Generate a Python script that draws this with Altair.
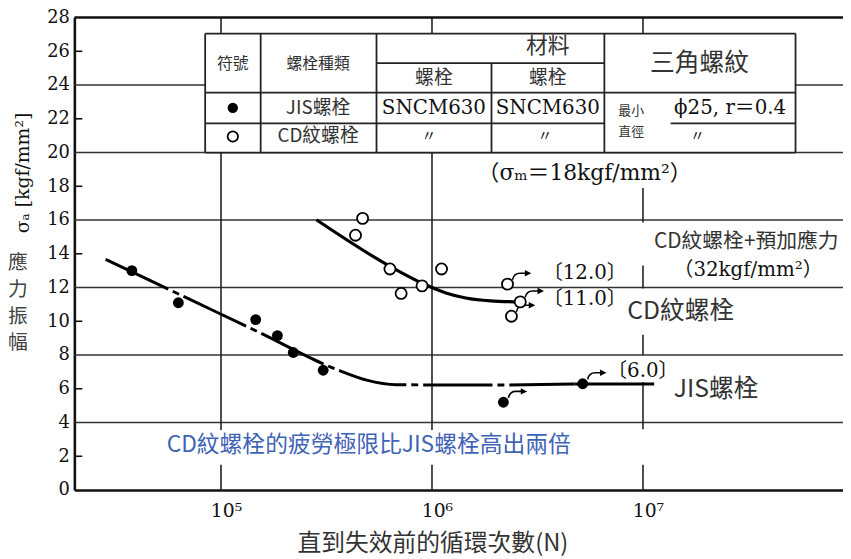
import altair as alt
import pandas as pd

# ---------------- data ----------------
jis_N = [3.78e4, 6.28e4, 1.46e5, 1.85e5, 2.20e5, 3.05e5, 2.18e6, 5.18e6]
jis_s = [13.0, 11.1, 10.1, 9.15, 8.15, 7.1, 5.2, 6.3]
jis_runout = [0, 0, 0, 0, 0, 0, 1, 1]

cd_N = [4.69e5, 4.34e5, 6.32e5, 1.11e6, 8.97e5, 7.14e5, 2.28e6, 2.62e6, 2.38e6]
cd_s = [16.1, 15.1, 13.1, 13.1, 12.1, 11.65, 12.2, 11.15, 10.3]
cd_runout = [0, 0, 0, 0, 0, 0, 1, 1, 1]

jis_curve_N = [2.84e4, 7.0e4, 1.49e5, 3.67e5, 4.9e5, 6.78e5, 1.61e6, 4.74e6]
jis_curve_s = [13.67, 11.34, 9.39, 7.06, 6.51, 6.24, 6.22, 6.28]
jis_tail_N = [4.74e6, 1.13e7]
jis_tail_s = [6.28, 6.28]

cd_curve_N = [2.83e5, 6.32e5, 9.38e5, 1.164e6, 1.445e6, 1.892e6, 2.62e6]
cd_curve_s = [16.02, 13.26, 12.15, 11.68, 11.38, 11.21, 11.15]

x_tick_values = [1e5, 1e6, 1e7]
x_tick_labels = ["10⁵", "10⁶", "10⁷"]
y_tick_values = list(range(0, 29, 2))
y_grid_values = [4, 8, 12, 16, 20, 24]
y_minor_ticks = [2, 6, 10, 14, 18, 22, 26]

# ---------------- scales / axes ----------------
X_DOMAIN = [10 ** 4.305, 10 ** 7.948]
xs = alt.Scale(type="log", domain=X_DOMAIN, nice=False)
ys = alt.Scale(domain=[0, 28], nice=False, zero=False)

SANS = "Noto Sans CJK TC"
SERIF = "DejaVu Serif"
SERIF_CJK = "DejaVu Serif, Noto Sans CJK TC"

label_expr = " : ".join(
    f"datum.value == {v:g} ? '{l}'" for v, l in zip(x_tick_values, x_tick_labels)) + " : ''"
x_axis = alt.Axis(values=x_tick_values, labelExpr=label_expr, ticks=False, grid=False,
                  title=None, domainWidth=2.6, domainColor="#111", labelFont=SERIF,
                  labelFontSize=19, labelColor="#111", labelPadding=12, labelOffset=5,
                  labelFlush=False, labelOverlap=False)
y_axis = alt.Axis(values=y_tick_values, ticks=False, grid=False, title=None,
                  domainWidth=2.6, domainColor="#111", labelFont=SERIF,
                  labelFontSize=18, labelColor="#111", labelPadding=5)


def X(field="N"):
    return alt.X(f"{field}:Q", scale=xs, axis=x_axis)


def Y(field="s"):
    return alt.Y(f"{field}:Q", scale=ys, axis=y_axis)


def texts(rows, font, size, color="#222", align="center", baseline="middle", **kw):
    df = pd.DataFrame([{"N": 10 ** r[0], "s": r[1], "t": r[2]} for r in rows])
    return alt.Chart(df).mark_text(font=font, fontSize=size, color=color,
                                   align=align, baseline=baseline, **kw).encode(
        x=X(), y=Y(), text="t:N")


layers = []

# horizontal grid lines
layers.append(alt.Chart(pd.DataFrame({"s": y_grid_values})).mark_rule(
    color="#333", strokeWidth=1.5).encode(y=Y()))
# inward minor ticks on y axis
layers.append(alt.Chart(pd.DataFrame({"s": y_minor_ticks})).mark_rule(
    color="#111", strokeWidth=1.6).encode(y=Y(), x=alt.value(0), x2=alt.value(8)))
# vertical grid lines at 1e5 and 1e6
layers.append(alt.Chart(pd.DataFrame({"N": [1e5, 1e6]})).mark_rule(
    color="#222", strokeWidth=1.6).encode(x=X()))
# broken line at 1e7
seg7 = pd.DataFrame({"N": [1e7] * 6,
                     "s": [26.9, 15.85, 11.95, 8.0, 3.6, 0.0],
                     "s2": [28.0, 17.9, 13.3, 9.2, 6.4, 1.5]})
layers.append(alt.Chart(seg7).mark_rule(color="#222", strokeWidth=1.6).encode(
    x=X(), y=Y(), y2="s2:Q"))

# white backing behind the blue note
layers.append(alt.Chart(pd.DataFrame({"N": [10 ** 4.70], "N2": [10 ** 6.72],
                                      "s": [1.5], "s2": [3.55]})).mark_rect(
    color="white").encode(x=X(), x2="N2:Q", y=Y(), y2="s2:Q"))

# ---------------- table ----------------
tL, tc1, tc2, tc3, tc4, tu, tR = 4.925, 5.188, 5.737, 6.282, 6.817, 7.131, 7.723
tT, tm, th, tr, tB = 27.05, 25.3, 23.55, 21.73, 20.0
layers.append(alt.Chart(pd.DataFrame({"N": [10 ** tL], "N2": [10 ** tR],
                                      "s": [tB], "s2": [tT]})).mark_rect(
    color="white").encode(x=X(), x2="N2:Q", y=Y(), y2="s2:Q"))
hl = [(tT, tL, tR), (tm, tc2, tc4), (th, tL, tR), (tr, tL, tc4), (tr, tu, tR), (tB, tL, tR)]
layers.append(alt.Chart(pd.DataFrame([{"s": a, "N": 10 ** b, "N2": 10 ** c} for a, b, c in hl]))
              .mark_rule(color="#222", strokeWidth=1.8).encode(x=X(), x2="N2:Q", y=Y()))
vl = [(tL, tB, tT), (tc1, tB, tT), (tc2, tB, tT), (tc3, tB, tm), (tc4, tB, tT), (tR, tB, tT)]
layers.append(alt.Chart(pd.DataFrame([{"N": 10 ** a, "s": b, "s2": c} for a, b, c in vl]))
              .mark_rule(color="#222", strokeWidth=1.8).encode(x=X(), y=Y(), y2="s2:Q"))

layers.append(texts([(5.056, 25.25, "符號"), (5.460, 25.25, "螺栓種類")], SANS, 16, "#333"))
layers.append(texts([(6.549, 26.3, "材料")], SANS, 22, "#333"))
layers.append(texts([(6.009, 24.4, "螺栓"), (6.549, 24.4, "螺栓")], SANS, 19, "#333"))
layers.append(texts([(7.268, 25.3, "三角螺紋")], SANS, 25, "#333"))
layers.append(texts([(5.460, 22.65, "JIS螺栓"), (5.460, 20.95, "CD紋螺栓")], SANS, 19, "#333"))
layers.append(texts([(6.009, 22.65, "SNCM630"), (6.549, 22.65, "SNCM630")], SERIF, 20, "#111"))
layers.append(texts([(6.944, 22.45, "最小"), (6.944, 21.2, "直徑")], SANS, 13, "#333"))
layers.append(texts([(7.413, 22.65, "ϕ25, r＝0.4")], SERIF_CJK, 20, "#111"))
layers.append(texts([(5.986, 20.95, "〃"), (6.535, 20.95, "〃"), (7.258, 20.95, "〃")],
                    SANS, 15, "#111"))
layers.append(alt.Chart(pd.DataFrame({"N": [10 ** 5.056], "s": [22.65]})).mark_point(
    shape="circle", filled=True, color="black", size=110, opacity=1).encode(x=X(), y=Y()))
layers.append(alt.Chart(pd.DataFrame({"N": [10 ** 5.056], "s": [20.95]})).mark_point(
    shape="circle", filled=True, fill="white", stroke="black", strokeWidth=1.8,
    size=110, opacity=1).encode(x=X(), y=Y()))

# ---------------- curves ----------------
layers.append(alt.Chart(pd.DataFrame({"N": jis_curve_N, "s": jis_curve_s})).mark_line(
    color="black", strokeWidth=3, interpolate="monotone", strokeDash=[70, 5, 7, 5]).encode(
    x=X(), y=Y()))
layers.append(alt.Chart(pd.DataFrame({"N": jis_tail_N, "s": jis_tail_s})).mark_line(
    color="black", strokeWidth=3).encode(x=X(), y=Y()))
layers.append(alt.Chart(pd.DataFrame({"N": cd_curve_N, "s": cd_curve_s})).mark_line(
    color="black", strokeWidth=3.2, interpolate="monotone").encode(x=X(), y=Y()))

# ---------------- points ----------------
jis_df = pd.DataFrame({"N": jis_N, "s": jis_s, "r": jis_runout})
cd_df = pd.DataFrame({"N": cd_N, "s": cd_s, "r": cd_runout})
# run-out arrows (small bent arrow leaving each run-out point)
arrows = pd.concat([jis_df[jis_df.r == 1], cd_df[cd_df.r == 1]])
ARROW_SHAFT = "M0.2,-0.18 Q0.26,-0.44 0.5,-0.44 L0.78,-0.44"
ARROW_HEAD = "M0.96,-0.44 L0.7,-0.57 L0.7,-0.31 Z"
layers.append(alt.Chart(arrows).mark_point(shape=ARROW_SHAFT, filled=False, color="black",
                                           strokeWidth=1.6, size=2500, opacity=1).encode(
    x=X(), y=Y()))
layers.append(alt.Chart(arrows).mark_point(shape=ARROW_HEAD, filled=True, color="black",
                                           strokeWidth=0, size=2500, opacity=1).encode(
    x=X(), y=Y()))
layers.append(alt.Chart(jis_df).mark_point(shape="circle", filled=True, color="black",
                                           size=120, opacity=1).encode(x=X(), y=Y()))
layers.append(alt.Chart(cd_df).mark_point(shape="circle", filled=True, fill="white",
                                          stroke="black", strokeWidth=1.8, size=125,
                                          opacity=1).encode(x=X(), y=Y()))

# ---------------- annotations ----------------
layers.append(texts([(6.526, 12.85, "〔12.0〕"), (6.526, 11.33, "〔11.0〕"),
                     (6.831, 7.04, "〔6.0〕")], SERIF_CJK, 20, "#111", align="left"))
layers.append(texts([(6.925, 10.62, "CD紋螺栓"), (7.146, 5.99, "JIS螺栓")], SANS, 25,
                    "#333", align="left"))
layers.append(texts([(7.052, 14.67, "CD紋螺栓+預加應力")], SANS, 21, "#333", align="left"))
layers.append(texts([(7.498, 13.03, "（32kgf/mm²）")], SERIF_CJK, 20, "#111"))
layers.append(texts([(6.723, 18.78, "（σₘ＝18kgf/mm²）")], SERIF_CJK, 22, "#111"))
layers.append(texts([(5.700, 2.64, "CD紋螺栓的疲勞極限比JIS螺栓高出兩倍")], SANS, 23,
                    "#3f63b5"))

# top border
layers.append(alt.Chart(pd.DataFrame({"s": [28]})).mark_rule(
    color="#111", strokeWidth=2.6).encode(y=Y()))

# axis titles (outside the plot)
one = alt.Data(values=[{"a": 1}])
layers.append(alt.Chart(one).mark_text(text="σₐ  [kgf/mm²]", font=SERIF, fontSize=19,
                                       color="#111", angle=270, align="center",
                                       baseline="middle").encode(
    x=alt.value(-52), y=alt.value(157)))
for i, ch in enumerate(["應", "力", "振", "幅"]):
    layers.append(alt.Chart(one).mark_text(text=ch, font=SANS, fontSize=20, color="#444",
                                           align="center", baseline="middle").encode(
        x=alt.value(-57), y=alt.value(248 + 27 * i)))
layers.append(alt.Chart(one).mark_text(text="直到失效前的循環次數(N)", font=SANS, fontSize=24,
                                       color="#333", align="center", baseline="middle").encode(
    x=alt.value(362), y=alt.value(532)))

chart = alt.layer(*layers).properties(
    width=776, height=477,
    padding={"left": 67, "top": 7, "right": 0, "bottom": 67},
    autosize=alt.AutoSizeParams(type="none"),
    background="white",
).configure_view(stroke=None)

chart.save("out.html", embed_options={"renderer": "svg", "actions": False})
